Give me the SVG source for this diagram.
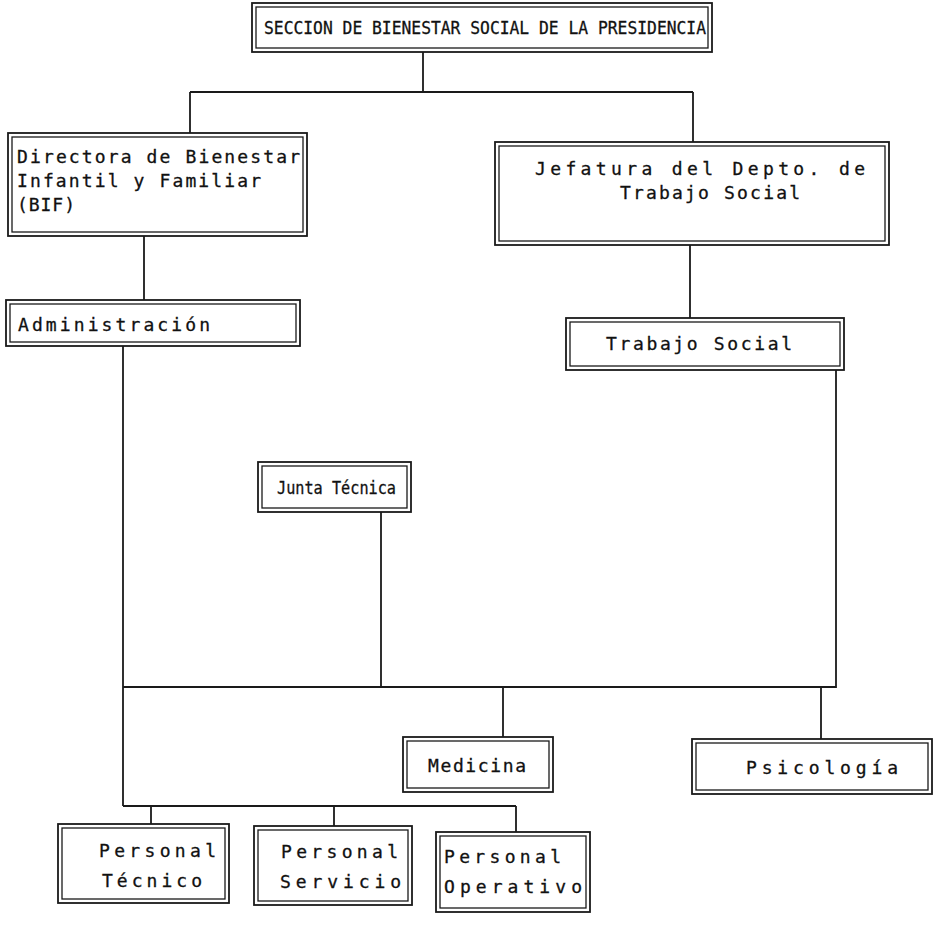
<svg xmlns="http://www.w3.org/2000/svg" width="948" height="944" viewBox="0 0 948 944">
<style>
.o{fill:#fff;stroke:#1a1a1a;stroke-width:1.8}
.i{fill:none;stroke:#1a1a1a;stroke-width:1.3}
.t{font-family:"DejaVu Sans Mono","Liberation Mono",monospace;font-size:18px;fill:#111;stroke:#111;stroke-width:0.3}
.c{fill:none;stroke:#1a1a1a;stroke-width:1.8}
</style>
<rect width="948" height="944" fill="#fff"/>
<g id="connectors">
<path class="c" d="M423 52V92M190 92H693M190 92V133M693 92V142"/>
<path class="c" d="M144 236V300M690 245V318"/>
<path class="c" d="M123 346V806M381 512V688M836 370V688M123 687H836"/>
<path class="c" d="M503 688V737M821 688V739"/>
<path class="c" d="M123 806H516M151 806V824M334 806V826M516 806V832"/>
</g>
<g id="n-seccion">
<rect class="o" x="252" y="3" width="460" height="49"/>
<rect class="i" x="256" y="7" width="452" height="41"/>
<text class="t" x="264" y="34" font-size="17" textLength="442" lengthAdjust="spacingAndGlyphs">SECCION DE BIENESTAR SOCIAL DE LA PRESIDENCIA</text>
</g>
<g id="n-directora">
<rect class="o" x="8" y="133" width="299" height="103"/>
<rect class="i" x="12" y="137" width="291" height="95"/>
<text class="t" x="17" y="163" textLength="283" lengthAdjust="spacing">Directora de Bienestar</text>
<text class="t" x="17" y="187" textLength="244" lengthAdjust="spacing">Infantil y Familiar</text>
<text class="t" x="17" y="211" textLength="58" lengthAdjust="spacing">(BIF)</text>
</g>
<g id="n-jefatura">
<rect class="o" x="495" y="142" width="394" height="103"/>
<rect class="i" x="499" y="146" width="386" height="95"/>
<text class="t" x="535" y="175" textLength="330" lengthAdjust="spacing">Jefatura del Depto. de</text>
<text class="t" x="620" y="199" textLength="180" lengthAdjust="spacing">Trabajo Social</text>
</g>
<g id="n-administracion">
<rect class="o" x="6" y="300" width="294" height="46"/>
<rect class="i" x="10" y="304" width="286" height="38"/>
<text class="t" x="18" y="331" textLength="192" lengthAdjust="spacing">Administración</text>
</g>
<g id="n-trabajo">
<rect class="o" x="566" y="318" width="278" height="52"/>
<rect class="i" x="570" y="322" width="270" height="44"/>
<text class="t" x="606" y="350" textLength="186" lengthAdjust="spacing">Trabajo Social</text>
</g>
<g id="n-junta">
<rect class="o" x="258" y="462" width="153" height="50"/>
<rect class="i" x="262" y="466" width="145" height="42"/>
<text class="t" x="277" y="494" font-size="16" textLength="119" lengthAdjust="spacingAndGlyphs">Junta Técnica</text>
</g>
<g id="n-medicina">
<rect class="o" x="403" y="737" width="150" height="55"/>
<rect class="i" x="407" y="741" width="142" height="47"/>
<text class="t" x="428" y="772" textLength="98" lengthAdjust="spacing">Medicina</text>
</g>
<g id="n-psicologia">
<rect class="o" x="692" y="739" width="240" height="55"/>
<rect class="i" x="696" y="743" width="232" height="47"/>
<text class="t" x="746" y="774" textLength="152" lengthAdjust="spacing">Psicología</text>
</g>
<g id="n-tecnico">
<rect class="o" x="58" y="824" width="171" height="79"/>
<rect class="i" x="62" y="828" width="163" height="71"/>
<text class="t" x="99" y="857" textLength="117" lengthAdjust="spacing">Personal</text>
<text class="t" x="102" y="887" textLength="100" lengthAdjust="spacing">Técnico</text>
</g>
<g id="n-servicio">
<rect class="o" x="254" y="826" width="158" height="79"/>
<rect class="i" x="258" y="830" width="150" height="71"/>
<text class="t" x="281" y="858" textLength="117" lengthAdjust="spacing">Personal</text>
<text class="t" x="280" y="888" textLength="121" lengthAdjust="spacing">Servicio</text>
</g>
<g id="n-operativo">
<rect class="o" x="436" y="832" width="154" height="80"/>
<rect class="i" x="440" y="836" width="146" height="72"/>
<text class="t" x="444" y="863" textLength="117" lengthAdjust="spacing">Personal</text>
<text class="t" x="444" y="893" textLength="138" lengthAdjust="spacing">Operativo</text>
</g>
</svg>
